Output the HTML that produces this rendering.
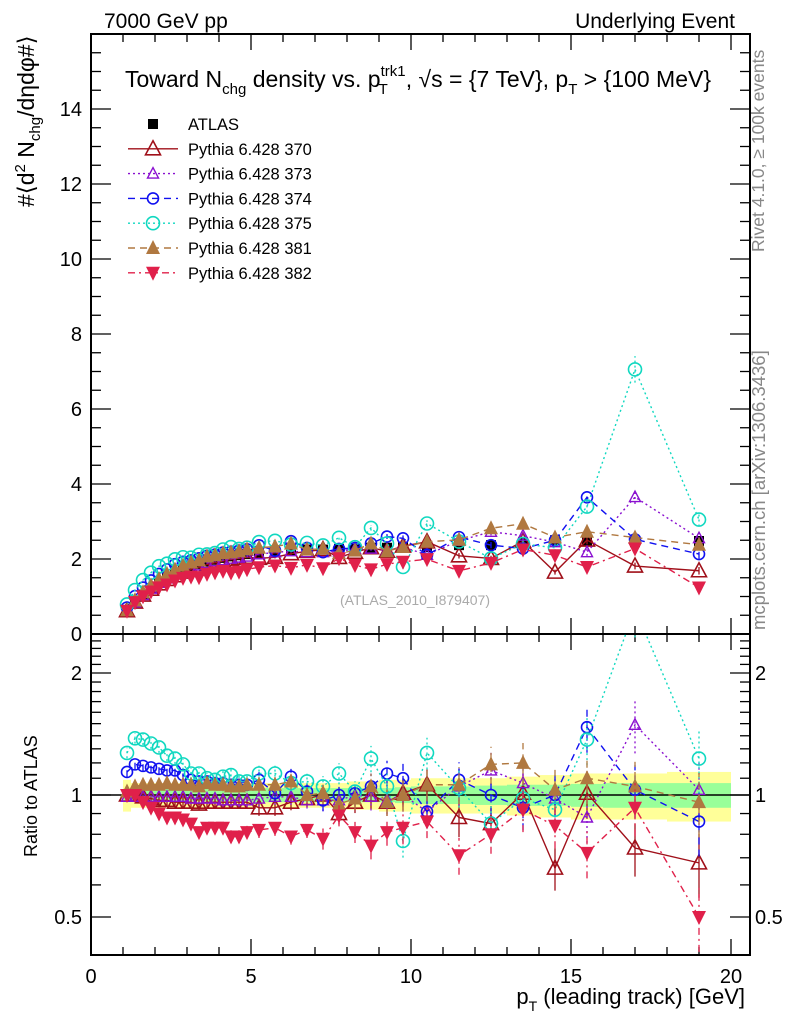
<!DOCTYPE html>
<html><head><meta charset="utf-8">
<style>
html,body{margin:0;padding:0;background:#fff;}
svg{display:block;font-family:"Liberation Sans",sans-serif;}
</style></head>
<body>
<svg id="chart" width="786" height="1024" viewBox="0 0 786 1024" xmlns="http://www.w3.org/2000/svg">
<text x="104" y="28" font-size="21">7000 GeV pp</text>
<text x="735" y="28" font-size="21" text-anchor="end">Underlying Event</text>
<text transform="translate(764,252) rotate(-90)" font-size="17.5" fill="#888">Rivet 4.1.0, ≥ 100k events</text>
<text transform="translate(765,630) rotate(-90)" font-size="18.5" fill="#888">mcplots.cern.ch [arXiv:1306.3436]</text>
<text transform="translate(34,207) rotate(-90)" font-size="23">#⟨d<tspan font-size="15" dy="-9">2</tspan><tspan dy="9"> N</tspan><tspan font-size="15" dy="6">chg</tspan><tspan dy="-6">/dηdφ#⟩</tspan></text>
<text transform="translate(37,857) rotate(-90)" font-size="18">Ratio to ATLAS</text>
<text x="745" y="1004" font-size="22" text-anchor="end">p<tspan font-size="14" dy="7">T</tspan><tspan dy="-7"> (leading track) [GeV]</tspan></text>
<text x="418" y="87" font-size="23" text-anchor="middle">Toward N<tspan font-size="15" dy="7">chg</tspan><tspan dy="-7"> density vs. p</tspan><tspan font-size="15" dy="-11">trk1</tspan><tspan font-size="15" dx="-27" dy="18">T</tspan><tspan dx="18" dy="-7">, √s = {7 TeV}, p</tspan><tspan font-size="15" dy="7">T</tspan><tspan dy="-7"> &gt; {100 MeV}</tspan></text>
<text x="415" y="605" font-size="14" fill="#aaa" text-anchor="middle">(ATLAS_2010_I879407)</text>
<g id="band"></g>
<g id="grid"></g>
<g id="series"></g>
<g id="legend"></g>
</svg>
<script>
const pT = [1.125,1.375,1.625,1.875,2.125,2.375,2.625,2.875,3.125,3.375,3.625,3.875,4.125,4.375,4.625,4.875,5.25,5.75,6.25,6.75,7.25,7.75,8.25,8.75,9.25,9.75,10.5,11.5,12.5,13.5,14.5,15.5,17,19];
const atlas = [0.62,0.85,1.05,1.22,1.38,1.5,1.62,1.72,1.8,1.87,1.93,1.98,2.03,2.07,2.1,2.13,2.17,2.2,2.23,2.25,2.25,2.27,2.27,2.3,2.3,2.32,2.32,2.37,2.37,2.45,2.5,2.48,2.45,2.48];
const ratio370 = [1.0,1.0,0.99,0.98,0.97,0.97,0.96,0.96,0.96,0.95,0.96,0.96,0.96,0.96,0.96,0.96,0.93,0.93,0.96,0.98,1.0,0.9,0.96,1.0,0.96,1.01,1.06,0.88,0.85,1.01,0.66,1.01,0.74,0.68];
const ratio373 = [0.99,0.99,0.99,0.99,0.99,0.99,0.99,0.99,0.98,0.98,0.98,0.98,0.97,0.97,0.97,0.97,0.98,0.99,0.99,0.97,0.97,0.97,1.0,0.99,0.97,1.0,0.91,1.05,1.15,1.07,0.98,0.88,1.49,1.03];
const ratio374 = [1.14,1.19,1.18,1.17,1.16,1.15,1.15,1.12,1.09,1.08,1.08,1.07,1.07,1.06,1.06,1.06,1.09,1.01,1.11,1.02,0.97,1.0,1.01,1.05,1.13,1.1,0.91,1.09,1.0,0.93,1.0,1.47,1.03,0.86];
const ratio375 = [1.27,1.38,1.37,1.34,1.31,1.25,1.23,1.19,1.13,1.13,1.1,1.09,1.11,1.12,1.08,1.08,1.13,1.13,1.07,1.08,1.05,1.13,1.02,1.23,1.05,0.77,1.27,1.04,0.85,0.98,0.92,1.37,2.88,1.23];
const ratio381 = [1.02,1.05,1.06,1.06,1.06,1.07,1.06,1.06,1.06,1.05,1.07,1.06,1.06,1.05,1.05,1.06,1.06,1.06,1.08,1.0,1.01,0.95,0.98,1.05,0.96,1.0,1.06,1.06,1.19,1.2,1.03,1.1,1.05,0.96];
const ratio382 = [1.0,1.0,0.96,0.93,0.9,0.88,0.88,0.87,0.85,0.81,0.83,0.83,0.83,0.79,0.79,0.81,0.82,0.83,0.79,0.82,0.78,0.89,0.81,0.75,0.81,0.83,0.86,0.71,0.8,0.92,0.84,0.72,0.93,0.5];
const relErr = [0.01,0.01,0.01,0.01,0.01,0.01,0.01,0.01,0.01,0.01,0.01,0.01,0.012,0.012,0.012,0.012,0.015,0.015,0.015,0.015,0.02,0.02,0.02,0.025,0.025,0.03,0.03,0.035,0.035,0.04,0.04,0.045,0.05,0.06];
const bandStat = [0.035,0.035,0.035,0.035,0.035,0.035,0.035,0.035,0.035,0.035,0.035,0.035,0.035,0.035,0.035,0.035,0.04,0.04,0.04,0.04,0.04,0.04,0.04,0.04,0.04,0.045,0.05,0.05,0.055,0.06,0.06,0.065,0.07,0.07];
const bandTot = [0.09,0.07,0.07,0.07,0.07,0.07,0.07,0.07,0.07,0.07,0.07,0.07,0.07,0.07,0.07,0.07,0.07,0.07,0.07,0.07,0.07,0.07,0.08,0.08,0.09,0.09,0.1,0.1,0.1,0.11,0.12,0.13,0.13,0.14];
const binLo = [1,1.25,1.5,1.75,2,2.25,2.5,2.75,3,3.25,3.5,3.75,4,4.25,4.5,4.75,5,5.5,6,6.5,7,7.5,8,8.5,9,9.5,10,11,12,13,14,15,16,18];
const binHi = [1.25,1.5,1.75,2,2.25,2.5,2.75,3,3.25,3.5,3.75,4,4.25,4.5,4.75,5,5.5,6,6.5,7,7.5,8,8.5,9,9.5,10,11,12,13,14,15,16,18,20];

const NS='http://www.w3.org/2000/svg';
const L=91,R=750,T=34,MB=634,RB=955;
const X=v=>L+(v-0)*(731-L)/20;
const Y=v=>MB-v*37.5;
const YR=r=>795-122*Math.log2(r);
function mk(parent,tag,attrs){const e=document.createElementNS(NS,tag);for(const k in attrs)e.setAttribute(k,attrs[k]);parent.appendChild(e);return e;}
const band=document.getElementById('band'),grid=document.getElementById('grid'),ser=document.getElementById('series'),leg=document.getElementById('legend');

for(let i=0;i<pT.length;i++){
  let r=mk(band,'rect',{x:X(binLo[i]),width:X(binHi[i])-X(binLo[i]),y:YR(1+bandTot[i]),height:YR(1-bandTot[i])-YR(1+bandTot[i]),fill:'#ffff99'});
  
  
  let g=mk(band,'rect',{x:X(binLo[i]),width:X(binHi[i])-X(binLo[i]),y:YR(1+bandStat[i]),height:YR(1-bandStat[i])-YR(1+bandStat[i]),fill:'#99ff99'});
  
  
}
mk(grid,'rect',{x:L,y:T,width:R-L,height:MB-T,fill:'none',stroke:'#000','stroke-width':2});
mk(grid,'rect',{x:L,y:MB,width:R-L,height:RB-MB,fill:'none',stroke:'#000','stroke-width':2});
mk(grid,'line',{x1:L,x2:R,y1:YR(1),y2:YR(1),stroke:'#000','stroke-width':1.5});
for(let v=0;v<=20;v++){
  const big=v%5===0,len=big?16:8;
  for(const [yb,dir] of [[MB,-1],[T,1],[RB,-1],[MB,1]]){
    mk(grid,'line',{x1:X(v),x2:X(v),y1:yb,y2:yb+dir*len,stroke:'#000','stroke-width':1.3});
  }
  if(big){const t=mk(grid,'text',{x:X(v),y:983,'font-size':20,'text-anchor':'middle'});t.textContent=v;
    
    }
}
for(let k=0;k<=32;k++){
  const v=k*0.5,big=k%4===0,len=big?20:10,y=Y(v);
  if(y<T)continue;
  mk(grid,'line',{x1:L,x2:L+len,y1:y,y2:y,stroke:'#000','stroke-width':1.3});
  mk(grid,'line',{x1:R,x2:R-len,y1:y,y2:y,stroke:'#000','stroke-width':1.3});
  if(big&&v<=14){const t=mk(grid,'text',{x:82,y:y+7,'font-size':20,'text-anchor':'end'});t.textContent=v;
    
    }
}
const rt=[0.5,0.6,0.7,0.8,0.9,1,1.1,1.2,1.3,1.4,1.5,1.6,1.7,1.8,1.9,2,2.1,2.2,2.3,2.4];
rt.forEach(r=>{const big=[0.5,1,2].includes(r),len=big?20:10,y=YR(r);
  mk(grid,'line',{x1:L,x2:L+len,y1:y,y2:y,stroke:'#000','stroke-width':1.3});
  mk(grid,'line',{x1:R,x2:R-len,y1:y,y2:y,stroke:'#000','stroke-width':1.3});
  if(big){const t=mk(grid,'text',{x:82,y:y+7,'font-size':20,'text-anchor':'end'});t.textContent=r;
    
    
    const t2=mk(grid,'text',{x:755,y:y+7,'font-size':20});t2.textContent=r;
    
    }
});

function marker(g,type,x,y,c){
  if(type==='sq')return mk(g,'rect',{x:x-5,y:y-5,width:10,height:10,fill:'#000'});
  if(type==='otri')return mk(g,'path',{d:`M${x},${y-8}L${x+7.5},${y+6}L${x-7.5},${y+6}Z`,fill:'none',stroke:c,'stroke-width':1.6});
  if(type==='stri')return mk(g,'path',{d:`M${x},${y-6}L${x+5.5},${y+4.5}L${x-5.5},${y+4.5}Z`,fill:'none',stroke:c,'stroke-width':1.4});
  if(type==='ocirc')return mk(g,'circle',{cx:x,cy:y,r:5.5,fill:'none',stroke:c,'stroke-width':1.6});
  if(type==='bcirc')return mk(g,'circle',{cx:x,cy:y,r:6.5,fill:'none',stroke:c,'stroke-width':1.6});
  if(type==='ftri')return mk(g,'path',{d:`M${x},${y-8}L${x+7},${y+6}L${x-7},${y+6}Z`,fill:c});
  if(type==='itri')return mk(g,'path',{d:`M${x},${y+8}L${x+7},${y-6}L${x-7},${y-6}Z`,fill:c});
}
const specs=[
 {name:'370',r:ratio370,c:'#a0101a',m:'otri',dash:''},
 {name:'373',r:ratio373,c:'#8a10d0',m:'stri',dash:'2,3'},
 {name:'374',r:ratio374,c:'#1010f0',m:'ocirc',dash:'7,5'},
 {name:'375',r:ratio375,c:'#10d8c0',m:'bcirc',dash:'2,3'},
 {name:'381',r:ratio381,c:'#b07840',m:'ftri',dash:'7,5'},
 {name:'382',r:ratio382,c:'#e0204a',m:'itri',dash:'7,4,2,4'}
];
const dg=mk(ser,'g',{});


pT.forEach((p,i)=>{const m=marker(dg,'sq',X(p),Y(atlas[i]));
  
  });
const clipM=mk(ser,'clipPath',{id:'cm'});mk(clipM,'rect',{x:L,y:T,width:R-L,height:MB-T});
const clipR=mk(ser,'clipPath',{id:'cr'});mk(clipR,'rect',{x:L,y:MB,width:R-L,height:RB-MB});
specs.forEach(s=>{
  const gm=mk(ser,'g',{'clip-path':'url(#cm)'});
  
  
  const gr=mk(ser,'g',{'clip-path':'url(#cr)'});
  
  
  const vals=s.r.map((r,i)=>r*atlas[i]);
  const pm=pT.map((p,i)=>X(p)+','+Y(vals[i])).join(' ');
  const pr=pT.map((p,i)=>X(p)+','+YR(s.r[i])).join(' ');
  mk(gm,'polyline',{points:pm,fill:'none',stroke:s.c,'stroke-width':1.4,'stroke-dasharray':s.dash});
  mk(gr,'polyline',{points:pr,fill:'none',stroke:s.c,'stroke-width':1.4,'stroke-dasharray':s.dash});
  pT.forEach((p,i)=>{
    const e=relErr[i],v=vals[i],r=s.r[i];
    mk(gm,'line',{x1:X(p),x2:X(p),y1:Y(v*(1-e)),y2:Y(v*(1+e)),stroke:s.c,'stroke-width':1.3,'stroke-dasharray':s.dash});
    mk(gr,'line',{x1:X(p),x2:X(p),y1:YR(Math.max(0.01,r*(1-3*e))),y2:YR(r*(1+3*e)),stroke:s.c,'stroke-width':1.3,'stroke-dasharray':s.dash});
    const a=marker(gm,s.m,X(p),Y(v),s.c);
    
    
    const b=marker(gr,s.m,X(p),YR(r),s.c);
    
    
  });
});
const labels=['ATLAS'].concat(specs.map(s=>'Pythia 6.428 '+s.name));
labels.forEach((lab,i)=>{
  const y=124+i*24.8;
  const g=mk(leg,'g',{});
  
  
  if(i===0){marker(g,'sq',153,y);}
  else{const s=specs[i-1];
    mk(g,'line',{x1:128,x2:178,y1:y,y2:y,stroke:s.c,'stroke-width':1.4,'stroke-dasharray':s.dash});
    marker(g,s.m,153,y,s.c);}
  const t=mk(g,'text',{x:188,y:y+6,'font-size':16.5});t.textContent=lab;
});
</script>
</body></html>
